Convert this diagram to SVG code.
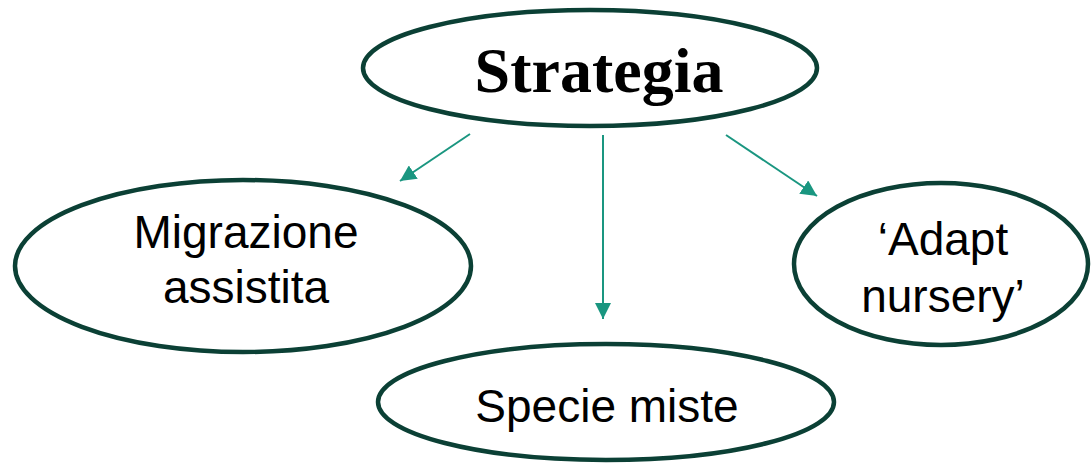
<svg xmlns="http://www.w3.org/2000/svg" width="1091" height="463" viewBox="0 0 1091 463">
<defs>
<style>
.node{fill:#fff;stroke:#0b4035;stroke-width:4.5}
.lbl{font-family:"Liberation Sans",Arial,sans-serif;font-size:46px;fill:#000;text-anchor:middle}
.title{font-family:"Liberation Serif","Times New Roman",serif;font-size:64px;font-weight:bold;fill:#000;text-anchor:middle}
.conn{stroke:#1a9680;stroke-width:2;fill:none}
</style>
<marker id="ah" viewBox="0 0 10 10" refX="10" refY="5" markerWidth="8" markerHeight="8" markerUnits="strokeWidth" orient="auto">
<path d="M0,0 L10,5 L0,10 Z" fill="#1a9680"/>
</marker>
</defs>
<g id="connectors">
<line class="conn" x1="470" y1="134" x2="400" y2="181" marker-end="url(#ah)"/>
<line class="conn" x1="603" y1="135" x2="603" y2="319" marker-end="url(#ah)"/>
<line class="conn" x1="726" y1="135" x2="817" y2="196" marker-end="url(#ah)"/>
</g>
<g id="strategia">
<ellipse class="node" cx="590" cy="68" rx="227" ry="58"/>
<text class="title" x="599" y="92">Strategia</text>
</g>
<g id="migrazione">
<ellipse class="node" cx="243" cy="266" rx="228" ry="86"/>
<text class="lbl" x="246" y="248">Migrazione</text>
<text class="lbl" x="246" y="303">assistita</text>
</g>
<g id="adapt">
<ellipse class="node" cx="941" cy="264" rx="147" ry="81"/>
<text class="lbl" x="943" y="255">‘Adapt</text>
<text class="lbl" x="943" y="312">nursery’</text>
</g>
<g id="specie">
<ellipse class="node" cx="606" cy="402" rx="228" ry="58"/>
<text class="lbl" x="607" y="422">Specie miste</text>
</g>
</svg>
